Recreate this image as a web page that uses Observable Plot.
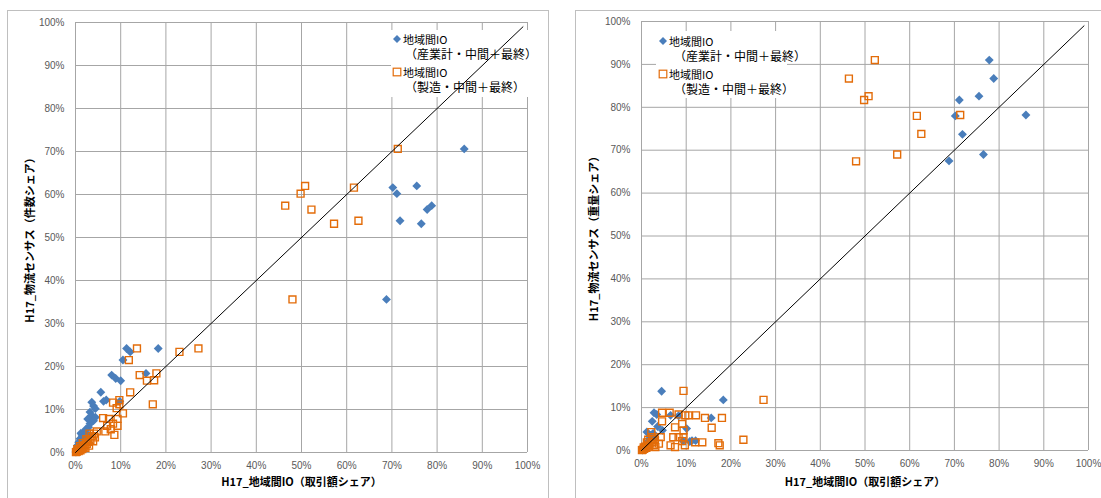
<!DOCTYPE html>
<html><head><meta charset="utf-8">
<script src="https://cdn.jsdelivr.net/npm/d3@7"></script>
<script src="https://cdn.jsdelivr.net/npm/@observablehq/plot@0.6"></script>
<style>
body{margin:0;background:#fff;width:1101px;height:498px;overflow:hidden;position:relative;}
.frame{position:absolute;border:1px solid #bfbfbf;z-index:0;}
.layer{position:absolute;top:0;}
.legend{position:absolute;background:#fff;z-index:2;font-family:"Noto Sans CJK JP",sans-serif;font-size:11px;color:#000;}
.legend span{position:absolute;white-space:nowrap;line-height:14px;}
.legend span.sub{font-size:12px;}
.legend svg{position:absolute;}
</style></head><body>
<div class="frame" style="left:7px;top:10px;width:540px;height:520px"></div>
<div class="frame" style="left:575px;top:10px;width:540px;height:520px"></div>
<div id="leftBase" class="layer" style="left:0;width:550px;z-index:1"></div>
<div id="rightBase" class="layer" style="left:550px;width:551px;z-index:1"></div>
<div id="leftLegend" class="legend" style="left:391px;top:30px;width:137px;height:67px"></div>
<div id="rightLegend" class="legend" style="left:656px;top:31px;width:131px;height:67px"></div>
<div id="leftTop" class="layer" style="left:0;width:550px;z-index:3"></div>
<div id="rightTop" class="layer" style="left:550px;width:551px;z-index:3"></div>
<script>
// ---- data (percent shares) ----
const tickValues = [0, 10, 20, 30, 40, 50, 60, 70, 80, 90, 100];
const diagonal = [0, 99];
const seriesNames = [["地域間IO", "（産業計・中間＋最終）"], ["地域間IO", "（製造・中間＋最終）"]];
const xTitle = "H17_地域間IO（取引額シェア）";
const yTitleLeft = "H17_物流センサス（件数シェア）";
const yTitleRight = "H17_物流センサス（重量シェア）";

// left chart: 件数シェア
const leftAll = [
  [86.0,70.6],[75.5,62.0],[70.2,61.6],[71.1,60.2],[78.8,57.4],[77.8,56.5],[71.8,53.9],[76.5,53.2],[68.8,35.6],
  [11.3,24.2],[12.1,23.4],[18.3,24.2],[10.5,21.5],[15.6,18.4],[8.0,18.0],[8.9,17.2],[10.0,16.7],[5.6,14.0],
  [6.8,12.2],[6.2,11.9],[3.6,11.7],[9.8,11.9],[4.0,10.8],[4.4,10.2],[3.2,9.4],[3.6,8.6],[4.4,8.2],[2.7,7.8],
  [4.0,7.4],[3.2,6.7],[2.9,5.9],[2.3,5.4],[2.0,4.9],[1.2,4.5],[1.4,4.1],[1.0,3.2],[0.7,2.4],[0.4,1.6],
  [0.1,0.1],[0.2,0.4],[0.3,0.8],[0.5,1.1],[0.6,0.5],[0.8,1.9],[1.1,2.6],[1.6,3.6],[2.2,4.2],[1.9,2.9],
  [2.5,3.4],[3.0,4.0],[0.9,0.9],[1.3,1.5]
];
const leftMfg = [
  [71.3,70.6],[50.8,62.0],[61.6,61.6],[49.8,60.2],[46.4,57.4],[52.2,56.5],[62.6,53.9],[57.2,53.2],[48.0,35.6],
  [13.6,24.2],[23.0,23.4],[27.2,24.2],[11.8,21.5],[14.2,18.0],[17.9,18.4],[15.8,16.7],[17.4,16.8],[12.1,14.0],
  [17.1,11.2],[8.3,11.6],[9.7,12.2],[9.7,11.2],[9.1,10.3],[10.5,9.1],[9.3,7.8],[6.1,8.0],[7.4,7.8],[7.0,6.2],
  [8.3,6.7],[9.3,6.2],[6.6,4.9],[7.8,5.4],[8.6,4.1],[4.1,4.4],[4.7,4.9],[3.1,4.4],[3.9,2.6],[4.3,3.5],
  [0.1,0.1],[0.3,0.2],[0.5,0.4],[0.7,0.3],[0.9,0.7],[1.1,0.5],[1.3,1.0],[1.5,0.8],[1.8,1.3],[2.0,1.7],
  [2.2,1.1],[2.5,2.0],[2.8,2.5],[3.0,1.6],[3.3,2.9],[1.6,2.2],[2.4,3.1],[0.4,0.8],[1.0,1.5],[3.6,3.8]
];
// right chart: 重量シェア
const rightAll = [
  [86.0,78.2],[75.5,82.6],[70.2,78.0],[71.1,81.7],[78.8,86.7],[77.8,91.0],[71.8,73.7],[76.5,69.0],[68.8,67.5],
  [4.5,13.8],[18.3,11.8],[2.8,8.8],[3.4,8.4],[6.5,8.2],[8.3,8.1],[15.6,7.6],[2.4,6.8],[3.6,5.6],[10.1,5.1],
  [4.7,4.7],[1.2,4.3],[11.3,2.3],[12.1,2.3],[9.3,2.2],[10.8,2.1],
  [0.2,0.1],[0.4,0.3],[0.6,0.8],[0.9,1.4],[1.4,2.0],[1.8,2.8],[2.1,3.5],[2.6,4.0],[1.0,0.5],[3.0,3.0]
];
const rightMfg = [
  [71.3,78.2],[50.8,82.6],[61.6,78.0],[49.8,81.7],[46.4,86.7],[52.2,91.0],[62.6,73.8],[57.2,69.0],[48.0,67.4],
  [9.4,13.9],[27.3,11.8],[4.6,8.8],[6.3,8.8],[8.3,8.4],[9.8,8.2],[10.5,8.2],[12.2,8.2],[14.2,7.6],[18.0,7.6],
  [4.6,6.8],[7.5,5.4],[9.1,6.2],[15.7,5.3],[9.4,4.7],[7.1,3.1],[8.3,3.1],[9.4,3.1],[4.3,3.1],[2.2,4.3],[2.4,3.1],
  [6.5,1.2],[7.5,0.8],[9.1,2.2],[9.7,1.2],[12.0,1.9],[13.6,1.9],[17.2,1.7],[17.5,1.2],[22.8,2.5],[3.1,0.8],[3.9,1.6],
  [0.1,0.1],[0.3,0.2],[0.6,0.4],[0.8,0.9],[1.1,0.6],[1.4,1.2],[1.7,0.9],[2.0,1.6],[2.5,2.0],[1.5,2.5],[3.0,2.6],
  [0.5,0.7],[1.2,1.9],[2.8,1.2]
];

// ---- styling ----
const BLUE = "#4A7EBB", ORANGE = "#E36C09", GRID = "#a6a6a6";
const CJK = '"Noto Sans CJK JP", sans-serif';
const pct = d => d + "%";

function baseChart(o) {
  return Plot.plot({
    width: o.width, height: 498,
    marginLeft: o.ml, marginRight: o.mr, marginTop: o.mt, marginBottom: o.mb,
    style: {background: "transparent", fontFamily: '"Liberation Sans", Arial, sans-serif', fontSize: "10px", overflow: "visible"},
    x: {domain: [0, 100]},
    y: {domain: [0, 100]},
    marks: [
      Plot.gridX(tickValues, {stroke: GRID, strokeOpacity: 1}),
      Plot.gridY(tickValues, {stroke: GRID, strokeOpacity: 1}),
      Plot.axisX(tickValues, {tickSize: 0, tickPadding: 9, tickFormat: pct, fill: "#595959", label: null}),
      Plot.axisY(tickValues, {tickSize: 0, tickPadding: 11, tickFormat: pct, fill: "#595959", label: null}),
      Plot.dot(o.blue, {x: d => d[0], y: d => d[1], symbol: "diamond2", fill: BLUE, stroke: "none", r: 4}),
      Plot.dot(o.orange, {x: d => d[0], y: d => d[1], symbol: "square", fill: "none", stroke: ORANGE, strokeWidth: 1.4, r: 3.9}),
      Plot.text([xTitle], {frameAnchor: "bottom", dy: o.xdy, textAnchor: "middle", lineAnchor: "middle", fontWeight: "bold", fontSize: 11, fontFamily: CJK, fill: "#000"}),
      Plot.text([o.yTitle], {frameAnchor: "left", dx: o.ydx, rotate: -90, textAnchor: "middle", lineAnchor: "middle", fontWeight: "bold", fontSize: 11, fontFamily: CJK, fill: "#000"})
    ]
  });
}
function topChart(o) {
  return Plot.plot({
    width: o.width, height: 498,
    marginLeft: o.ml, marginRight: o.mr, marginTop: o.mt, marginBottom: o.mb,
    style: {background: "transparent", overflow: "visible"},
    x: {domain: [0, 100], axis: null},
    y: {domain: [0, 100], axis: null},
    marks: [Plot.line(diagonal, {x: d => d, y: d => d, stroke: "#000", strokeWidth: 1})]
  });
}
const L = {width: 550, ml: 75, mr: 23, mt: 22, mb: 46, blue: leftAll, orange: leftMfg, yTitle: yTitleLeft, xdy: 30, ydx: -45};
const R = {width: 551, ml: 91, mr: 13, mt: 21, mb: 48, blue: rightAll, orange: rightMfg, yTitle: yTitleRight, xdy: 32, ydx: -47};
document.getElementById("leftBase").append(baseChart(L));
document.getElementById("rightBase").append(baseChart(R));
document.getElementById("leftTop").append(topChart(L));
document.getElementById("rightTop").append(topChart(R));

function legend(el, pos) {
  const sym = (i, cx, cy) => {
    const s = document.createElementNS("http://www.w3.org/2000/svg", "svg");
    s.setAttribute("width", 12); s.setAttribute("height", 12);
    s.style.left = (cx - 6) + "px"; s.style.top = (cy - 6) + "px";
    s.innerHTML = i === 0
      ? `<path d="M6,2 L10,6 L6,10 L2,6 Z" fill="${BLUE}"/>`
      : `<rect x="2.2" y="2.2" width="7.6" height="7.6" fill="none" stroke="${ORANGE}" stroke-width="1.2"/>`;
    el.append(s);
  };
  const txt = (t, x, cy, cls) => {
    const sp = document.createElement("span");
    sp.textContent = t; sp.style.left = x + "px"; sp.style.top = (cy - 7) + "px";
    if (cls) sp.className = cls;
    el.append(sp);
  };
  seriesNames.forEach((names, i) => {
    const cy = pos.y0 + i * pos.gap;
    sym(i, pos.sx, cy);
    txt(names[0], pos.tx, cy);
    txt(names[1], pos.tx2, cy + 15, "sub");
  });
}
legend(document.getElementById("leftLegend"), {sx: 6, tx: 12, tx2: 14, y0: 9, gap: 33});
legend(document.getElementById("rightLegend"), {sx: 7, tx: 13, tx2: 18, y0: 10, gap: 33});
</script>
</body></html>
